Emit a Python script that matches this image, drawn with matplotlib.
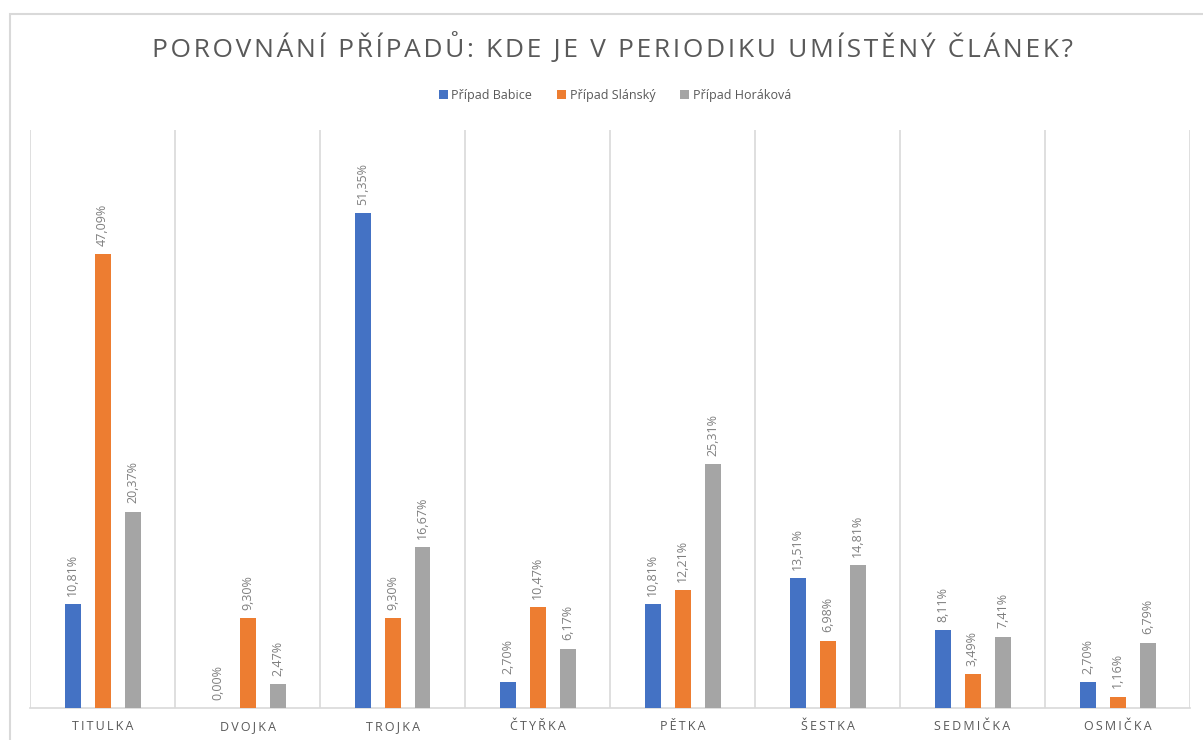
import matplotlib
matplotlib.use("Agg")
import matplotlib.pyplot as plt
from matplotlib.patches import Rectangle, Patch
import numpy as np

categories = ["TITULKA", "DVOJKA", "TROJKA", "ČTYŘKA", "PĚTKA", "ŠESTKA", "SEDMIČKA", "OSMIČKA"]
series_names = ["Případ Babice", "Případ Slánský", "Případ Horáková"]
babice = [10.81, 0.00, 51.35, 2.70, 10.81, 13.51, 8.11, 2.70]
slansky = [47.09, 9.30, 9.30, 10.47, 12.21, 6.98, 3.49, 1.16]
horakova = [20.37, 2.47, 16.67, 6.17, 25.31, 14.81, 7.41, 6.79]
colors = ["#4472C4", "#ED7D31", "#A5A5A5"]

FONT = ["Open Sans", "DejaVu Sans"]
plt.rcParams['font.family'] = FONT

W, H = 1203, 740
fig = plt.figure(figsize=(W / 100, H / 100), dpi=100)

# chart area border
fig.patches.append(Rectangle((10 / W, -0.1), 1.2, 1 - 14 / H + 0.1, transform=fig.transFigure,
                             fill=False, edgecolor="#d9d9d9", linewidth=1.5, zorder=0))

ax = fig.add_axes([30 / W, 1 - 708 / H, (1190 - 30) / W, (708 - 130) / H])
n = len(categories)
x = np.arange(n)
offsets = [-30 / 145, 0, 30 / 145]
bw = 16 / 145
all_series = [babice, slansky, horakova]
for s, (vals, off, c, name) in enumerate(zip(all_series, offsets, colors, series_names)):
    bars = ax.bar(x + off, vals, width=bw, color=c, label=name, zorder=3)
    for xi, v in zip(x + off, vals):
        ax.annotate(f"{v:.2f}%".replace(".", ","), (xi, v), xytext=(0, 6), textcoords="offset points",
                    rotation=90, ha="center", va="bottom", fontsize=9, color="#7f7f7f")

ax.set_xlim(-0.5, n - 0.5)
ax.set_ylim(0, 60)
ax.set_yticks([])
for b in np.arange(-0.5, n, 1):
    ax.axvline(b, color="#d9d9d9", linewidth=1.2, zorder=1)
for sp in ["top", "right", "left"]:
    ax.spines[sp].set_visible(False)
ax.spines["bottom"].set_color("#d9d9d9")
ax.spines["bottom"].set_linewidth(1.2)
ax.set_xticks(x)
ax.set_xticklabels(["\u2009".join(c) for c in categories], fontsize=9, color="#595959")
ax.tick_params(axis="x", length=0, pad=9)

fig.text(612 / W, 1 - 48 / H, "\u200a".join("POROVNÁNÍ PŘÍPADŮ: KDE JE V PERIODIKU UMÍSTĚNÝ ČLÁNEK?"),
         ha="center", va="center", fontsize=19, color="#595959")

handles = [Patch(facecolor=c, label=nm) for c, nm in zip(colors, series_names)]
fig.legend(handles=handles, loc="center", bbox_to_anchor=(615 / W, 1 - 95 / H), ncol=3, frameon=False,
           fontsize=9, handlelength=0.7, handleheight=0.7, handletextpad=0.3, columnspacing=2.0,
           labelcolor="#595959")

fig.savefig("out.png", dpi=100)
